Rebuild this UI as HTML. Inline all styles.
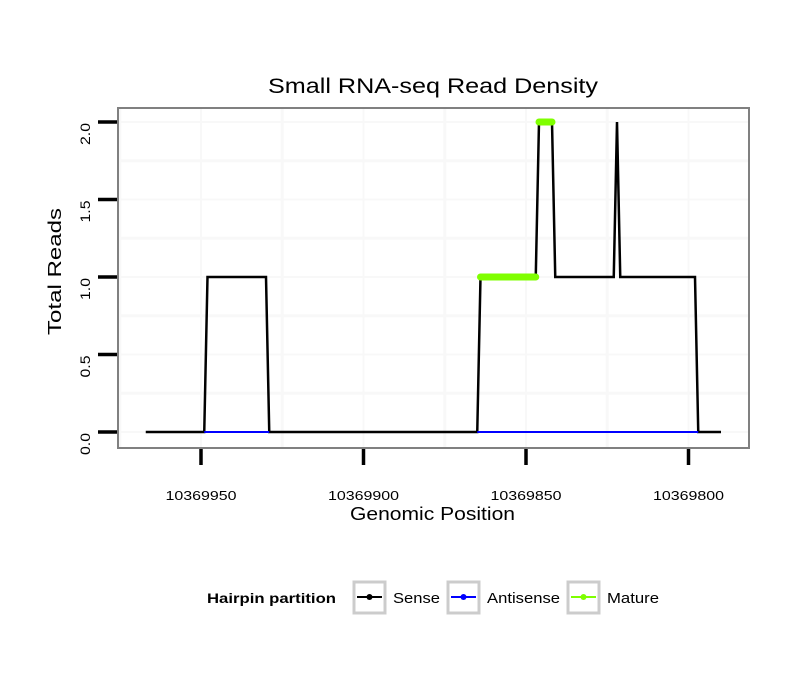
<!DOCTYPE html>
<html><head><meta charset="utf-8"><style>
body{margin:0;background:#fff;font-family:"Liberation Sans",sans-serif}
</style></head><body>
<svg id="chart" width="810" height="690" xmlns="http://www.w3.org/2000/svg" font-family="Liberation Sans, sans-serif">
<rect width="810" height="690" fill="#fff"/>
<text x="268" y="93" font-size="21" textLength="330" lengthAdjust="spacingAndGlyphs">Small RNA-seq Read Density</text>
<g id="grid"></g>
<g id="marks"></g>
<rect x="118" y="108" width="631" height="340" fill="none" stroke="#808080" stroke-width="2"/>
<g id="axes"></g>
<text x="350" y="520" font-size="18" textLength="165" lengthAdjust="spacingAndGlyphs">Genomic Position</text>
<text transform="translate(61,335) rotate(-90)" font-size="18" textLength="127" lengthAdjust="spacingAndGlyphs">Total Reads</text>
<g>
<text x="207" y="603" font-size="14" font-weight="bold" textLength="129" lengthAdjust="spacingAndGlyphs">Hairpin partition</text>
<g>
<rect x="354" y="582" width="31" height="31" fill="#fff" stroke="#ccc" stroke-width="3"/>
<line x1="357" y1="597" x2="382" y2="597" stroke="#000" stroke-width="2"/><circle cx="369.5" cy="597" r="3" fill="#000"/>
<text x="393" y="603" font-size="15" textLength="47" lengthAdjust="spacingAndGlyphs">Sense</text></g>
<g>
<rect x="448" y="582" width="31" height="31" fill="#fff" stroke="#ccc" stroke-width="3"/>
<line x1="451" y1="597" x2="476" y2="597" stroke="#0000ff" stroke-width="2"/><circle cx="463.5" cy="597" r="3" fill="#0000ff"/>
<text x="487" y="603" font-size="15" textLength="73" lengthAdjust="spacingAndGlyphs">Antisense</text></g>
<g>
<rect x="568" y="582" width="31" height="31" fill="#fff" stroke="#ccc" stroke-width="3"/>
<line x1="571" y1="597" x2="596" y2="597" stroke="#7fff00" stroke-width="2"/><circle cx="583.5" cy="597" r="3" fill="#7fff00"/>
<text x="607" y="603" font-size="15" textLength="52" lengthAdjust="spacingAndGlyphs">Mature</text></g>
</g>
</svg>
<script>
const xTicks=[10369950,10369900,10369850,10369800];
const xTickLabels=["10369950","10369900","10369850","10369800"];
const yTicks=[0,0.5,1,1.5,2];
const yTickLabels=["0.0","0.5","1.0","1.5","2.0"];
const sensePos=[10369967,10369949,10369948,10369930,10369929,10369865,10369864,10369847,10369846,10369842,10369841,10369823,10369822,10369821,10369798,10369797,10369790];
const senseVal=[0,0,1,1,0,0,1,1,2,2,1,1,2,1,1,0,0];
const antiStart=[10369949,10369865];
const antiEnd=[10369929,10369797];
const matureStart=[10369864,10369846];
const matureEnd=[10369847,10369842];
const matureVal=[1,2];
const NS="http://www.w3.org/2000/svg";
function xs(p){return 201+(10369950-p)*3.25;}
function ys(v){return 432-v*155;}
function mk(t,a,parent){const e=document.createElementNS(NS,t);for(const k in a)e.setAttribute(k,a[k]);parent.appendChild(e);return e;}
const grid=document.getElementById('grid'),marks=document.getElementById('marks'),axes=document.getElementById('axes');
for(let v=0;v<=2.0001;v+=0.25){const g=mk('line',{x1:118,x2:749,y1:ys(v),y2:ys(v),stroke:'#f8f8f8','stroke-width':v%0.5===0?2:3},grid);

}
for(let p=10369975;p>=10369775;p-=25){const x=xs(p);if(x<118||x>749)continue;const g=mk('line',{x1:x,x2:x,y1:108,y2:448,stroke:'#f8f8f8','stroke-width':p%50===0?2:3},grid);

}
const pts=sensePos.map((p,i)=>xs(p)+','+ys(senseVal[i])).join(' ');
const sl=mk('polyline',{points:pts,fill:'none',stroke:'#000','stroke-width':2.5},marks);


for(let i=0;i<antiStart.length;i++){const l=mk('line',{x1:xs(antiStart[i]),x2:xs(antiEnd[i]),y1:ys(0),y2:ys(0),stroke:'#0000ff','stroke-width':2},marks);

}
for(let i=0;i<matureStart.length;i++){const l=mk('line',{x1:xs(matureStart[i]),x2:xs(matureEnd[i]),y1:ys(matureVal[i]),y2:ys(matureVal[i]),stroke:'#7fff00','stroke-width':7,'stroke-linecap':'round'},marks);

}
xTicks.forEach((p,i)=>{const t=mk('line',{x1:xs(p),x2:xs(p),y1:449,y2:465,stroke:'#000','stroke-width':3.5},axes);


const tx=mk('text',{x:xs(p),y:500,'font-size':13,'text-anchor':'middle',textLength:71,lengthAdjust:'spacingAndGlyphs'},axes);tx.textContent=xTickLabels[i];

});
yTicks.forEach((v,i)=>{const t=mk('line',{x1:98,x2:117,y1:ys(v),y2:ys(v),stroke:'#000','stroke-width':3.5},axes);


const tx=mk('text',{transform:'translate(90,'+(ys(v)+23)+') rotate(-90)','font-size':14,textLength:22,lengthAdjust:'spacingAndGlyphs'},axes);tx.textContent=yTickLabels[i];

});
</script>
</body></html>
